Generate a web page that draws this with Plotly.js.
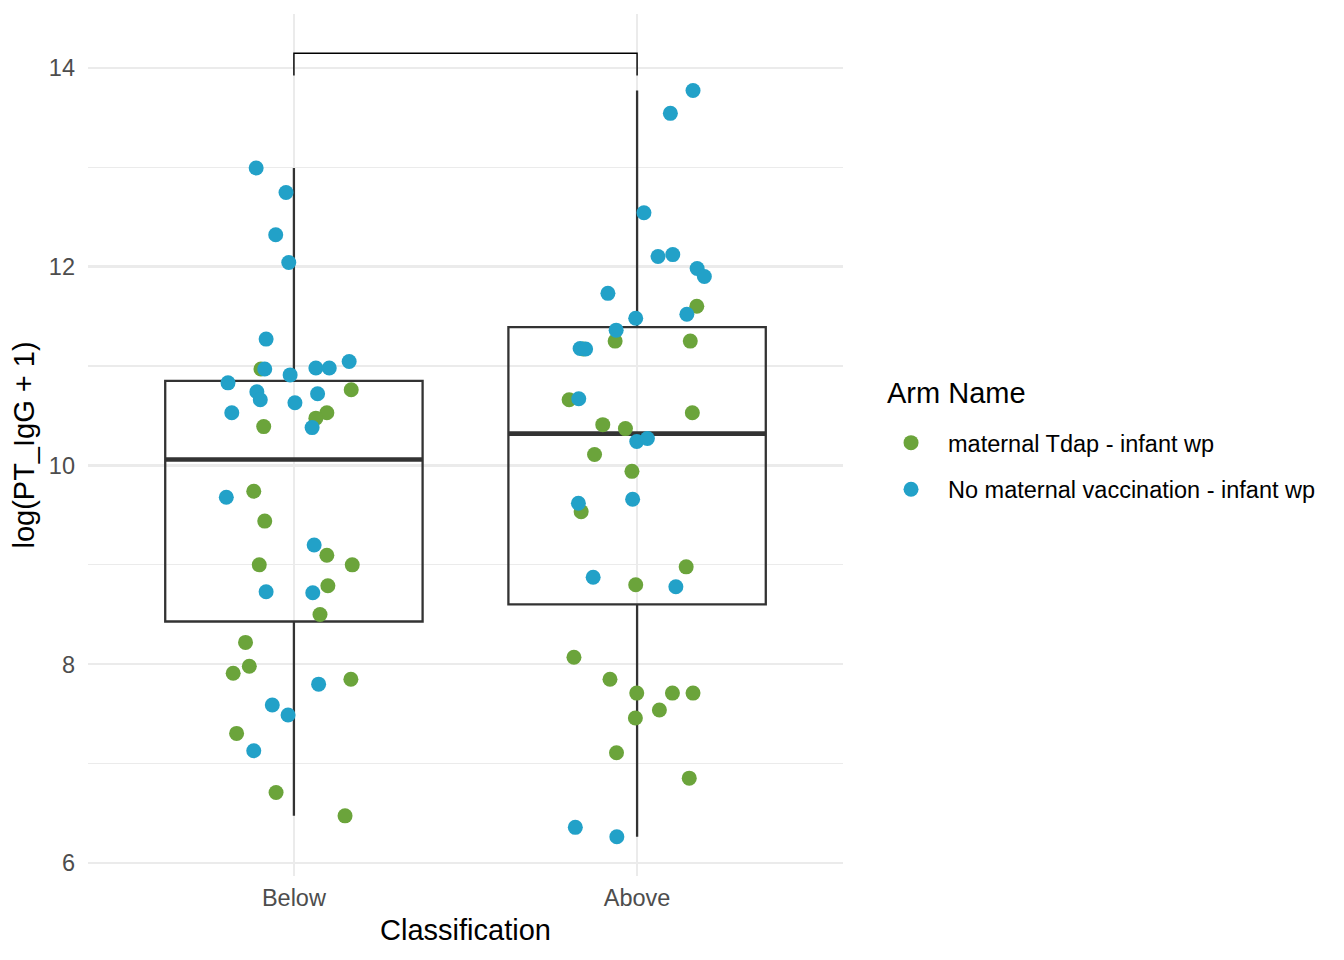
<!DOCTYPE html>
<html>
<head>
<meta charset="utf-8">
<script src="https://cdn.plot.ly/plotly-3.0.1.min.js"></script>
<style>html,body{margin:0;padding:0;background:#fff;}#chart{width:1344px;height:960px;}</style>
</head>
<body>
<div id="chart"></div>
<script>
// ---- data ----
const categories = ['Below', 'Above'];
const armNames = ['maternal Tdap - infant wp', 'No maternal vaccination - infant wp'];
const armColors = ['#6BA43B', '#22A1C8'];
const legendTitle = 'Arm Name';

// Below group
const belowTdapY = [10.97, 10.76, 10.53, 10.475, 10.39, 9.74, 9.44, 9.096, 9.0, 9.0, 8.79, 8.50, 8.22, 7.98, 7.91, 7.85, 7.305, 6.71, 6.476];
const belowTdapJitter = [-0.096, 0.167, 0.096, 0.064, -0.088, -0.117, -0.085, 0.096, -0.101, 0.170, 0.099, 0.076, -0.141, -0.130, -0.177, 0.166, -0.167, -0.052, 0.149];
const belowNoVacY = [12.99, 12.745, 12.32, 12.04, 11.27, 10.97, 10.91, 10.98, 10.98, 11.045, 10.83, 10.74, 10.66, 10.63, 10.72, 10.53, 10.38, 9.68, 9.20, 8.73, 8.72, 7.80, 7.59, 7.49, 7.13];
const belowNoVacJitter = [-0.110, -0.023, -0.053, -0.015, -0.081, -0.085, -0.011, 0.064, 0.103, 0.161, -0.192, -0.108, -0.098, 0.003, 0.069, -0.181, 0.053, -0.197, 0.059, -0.081, 0.055, 0.072, -0.063, -0.017, -0.117];

// Above group
const aboveTdapY = [11.60, 11.25, 11.25, 10.66, 10.53, 10.41, 10.37, 10.11, 9.94, 9.535, 8.98, 8.80, 8.07, 7.85, 7.71, 7.71, 7.71, 7.54, 7.46, 7.11, 6.855, 11.17];
const aboveTdapJitter = [0.174, -0.064, 0.155, -0.198, 0.161, -0.100, -0.034, -0.124, -0.015, -0.163, 0.143, -0.004, -0.184, -0.079, -0.001, 0.103, 0.163, 0.065, -0.005, -0.060, 0.152, -0.157];
const aboveNoVacY = [13.77, 13.54, 12.54, 12.10, 12.12, 11.98, 11.90, 11.73, 11.52, 11.48, 11.36, 11.175, 11.17, 10.67, 10.24, 10.27, 9.62, 9.66, 8.875, 8.78, 6.36, 6.265];
const aboveNoVacJitter = [0.163, 0.097, 0.020, 0.061, 0.104, 0.175, 0.196, -0.085, 0.145, -0.004, -0.061, -0.166, -0.150, -0.170, -0.001, 0.030, -0.171, -0.013, -0.128, 0.113, -0.180, -0.059];

// significance bracket settings (fractions of the data range, as ggsignif)
const bracketStepFraction = 0.05;
const bracketTipFraction = 0.03;

// ---- helpers ----
function quantile7(arr, p) {
  const s = arr.slice().sort((a, b) => a - b);
  const h = (s.length - 1) * p;
  const lo = Math.floor(h), hi = Math.ceil(h);
  return s[lo] + (h - lo) * (s[hi] - s[lo]);
}

const groups = [
  { tdapY: belowTdapY, tdapJ: belowTdapJitter, noY: belowNoVacY, noJ: belowNoVacJitter },
  { tdapY: aboveTdapY, tdapJ: aboveTdapJitter, noY: aboveNoVacY, noJ: aboveNoVacJitter }
];

const boxWidth = 0.75;
const q1 = [], med = [], q3 = [], lf = [], uf = [];
groups.forEach(g => {
  const all = g.tdapY.concat(g.noY);
  const a = quantile7(all, 0.25), m = quantile7(all, 0.5), b = quantile7(all, 0.75);
  const iqr = b - a;
  const inside = all.filter(v => v >= a - 1.5 * iqr && v <= b + 1.5 * iqr);
  q1.push(a); med.push(m); q3.push(b);
  lf.push(Math.min(...inside)); uf.push(Math.max(...inside));
});

const allY = groups.flatMap(g => g.tdapY.concat(g.noY));
const yMin = Math.min(...allY), yMax = Math.max(...allY);
const yRange = yMax - yMin;
const bracketTop = yMax + bracketStepFraction * yRange;
const bracketTip = bracketTop - bracketTipFraction * yRange;
const fullMin = yMin, fullMax = bracketTop;
const pad = 0.05 * (fullMax - fullMin);

const traces = [];
traces.push({
  type: 'box',
  x: [0, 1],
  q1: q1, median: med, q3: q3, lowerfence: lf, upperfence: uf,
  width: boxWidth,
  fillcolor: 'rgba(0,0,0,0)',
  line: { color: '#333333', width: 2.3 },
  whiskerwidth: 0,
  boxpoints: false,
  showlegend: false,
  hoverinfo: 'skip'
});
// thicker median lines
med.forEach((m, i) => {
  traces.push({
    type: 'scatter', mode: 'lines',
    x: [i - boxWidth / 2, i + boxWidth / 2], y: [m, m],
    line: { color: '#333333', width: 4.6 },
    showlegend: false, hoverinfo: 'skip'
  });
});
// bracket
traces.push({
  type: 'scatter', mode: 'lines',
  x: [0, 0, 1, 1], y: [bracketTip, bracketTop, bracketTop, bracketTip],
  line: { color: '#000000', width: 1.4 },
  showlegend: false, hoverinfo: 'skip'
});

// points: green arm first, blue on top
[['tdapY', 'tdapJ'], ['noY', 'noJ']].forEach((keys, armIdx) => {
  const xs = [], ys = [];
  groups.forEach((g, gi) => {
    g[keys[0]].forEach((v, k) => { xs.push(gi + g[keys[1]][k]); ys.push(v); });
  });
  traces.push({
    type: 'scatter', mode: 'markers',
    x: xs, y: ys,
    name: armNames[armIdx],
    legendgroup: 'g' + armIdx,
    marker: { color: armColors[armIdx], size: 15, line: { width: 0 } }
  });
});

const font = 'Liberation Sans, Arial, Helvetica, sans-serif';
const layout = {
  width: 1344, height: 960,
  paper_bgcolor: '#ffffff', plot_bgcolor: '#ffffff',
  font: { family: font, color: '#000000' },
  margin: { l: 88, r: 501, t: 14, b: 84 },
  showlegend: true,
  xaxis: {
    range: [-0.6, 1.6],
    tickvals: [0, 1], ticktext: categories,
    showgrid: true, gridcolor: '#EBEBEB', gridwidth: 2.2,
    zeroline: false, showline: false, ticks: '',
    ticklabelstandoff: 5,
    tickfont: { size: 23.5, color: '#4D4D4D', family: font },
    title: { text: 'Classification', font: { size: 29, color: '#000000', family: font }, standoff: 10 },
    automargin: false
  },
  yaxis: {
    range: [fullMin - pad, fullMax + pad],
    tick0: 0, dtick: 2,
    showgrid: true, gridcolor: '#EBEBEB', gridwidth: 2.2,
    minor: { dtick: 1, tick0: 0, showgrid: true, gridcolor: '#EBEBEB', gridwidth: 1.1 },
    zeroline: false, showline: false, ticks: '',
    ticklabelstandoff: 12,
    tickfont: { size: 23.5, color: '#4D4D4D', family: font },
    title: { text: 'log(PT_IgG + 1)', font: { size: 29, color: '#000000', family: font }, standoff: 5 },
    automargin: false
  },
  legend: {
    x: 1.0411, xanchor: 'left', y: 0.528, yanchor: 'top',
    bgcolor: 'rgba(0,0,0,0)',
    font: { size: 23.5, family: font, color: '#000000' },
    tracegroupgap: 13,
    itemwidth: 64
  },
  annotations: [{
    xref: 'paper', yref: 'paper', x: 1.0556, y: 0.5603,
    xanchor: 'left', yanchor: 'middle', showarrow: false,
    text: legendTitle, font: { size: 29, family: font, color: '#000000' }
  }]
};

Plotly.newPlot('chart', traces, layout, { displayModeBar: false, staticPlot: true });
</script>
</body>
</html>
